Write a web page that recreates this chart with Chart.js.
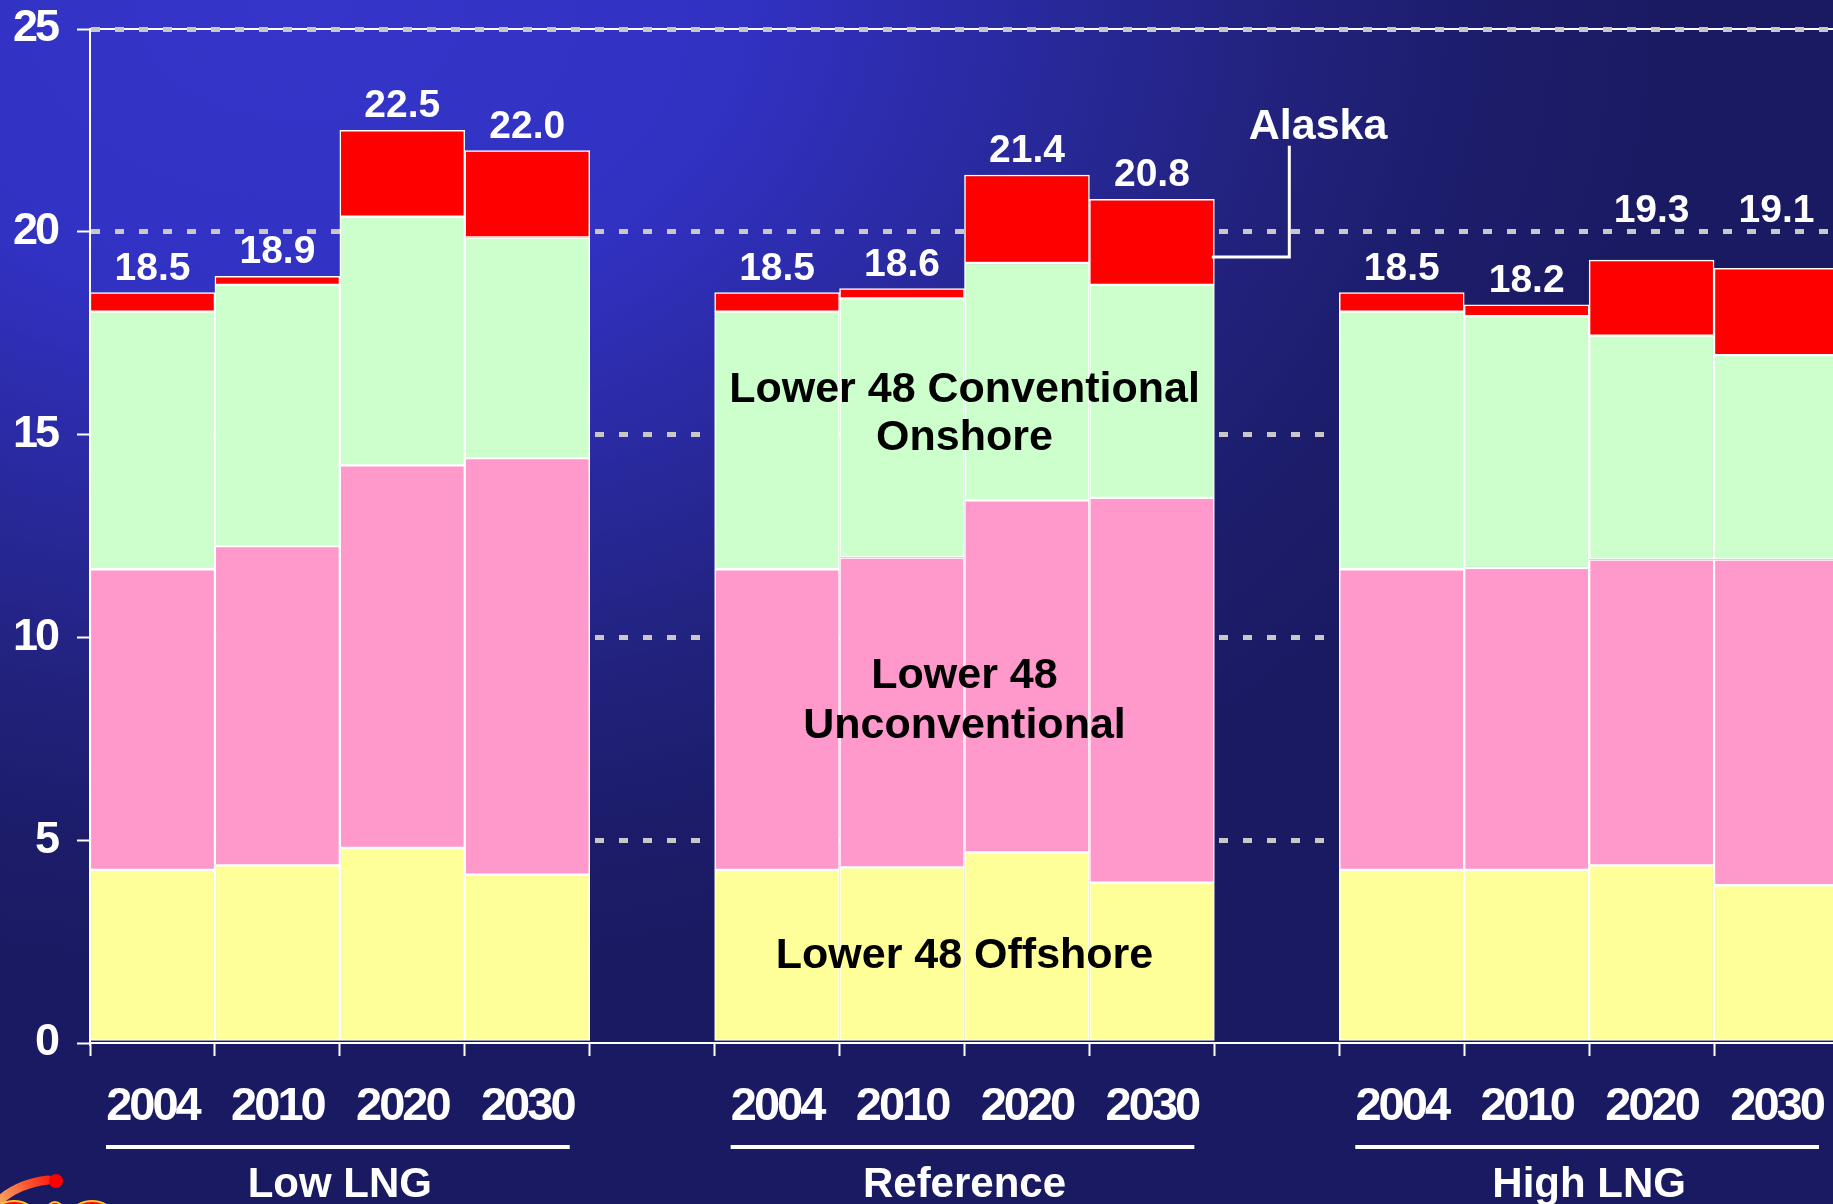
<!DOCTYPE html>
<html><head><meta charset="utf-8">
<script src="https://cdn.jsdelivr.net/npm/chart.js@4.4.1/dist/chart.umd.min.js"></script>
<style>
html,body{margin:0;padding:0;overflow:hidden;width:1833px;height:1204px;}
body{background: radial-gradient(1400px 1000px at 300px 0px, #3535CA 0%, #3131C2 32%, #22227E 70%, #1C1C6A 86%, #1A1A62 100%);}
canvas{display:block}
</style></head><body>
<canvas id="c" width="1846" height="1204"></canvas>
<script>
// ---- data ----
const categories = ['2004','2010','2020','2030','','2004','2010','2020','2030','','2004','2010','2020','2030'];
const offshore       = [4.27, 4.38, 4.81, 4.15, null, 4.27, 4.33, 4.70, 3.95, null, 4.27, 4.27, 4.38, 3.89];
const unconventional = [7.41, 7.87, 9.43, 10.27, null, 7.41, 7.64, 8.68, 9.49, null, 7.41, 7.44, 7.54, 8.03];
const onshore        = [6.35, 6.44, 6.13, 5.44, null, 6.35, 6.39, 5.85, 5.25, null, 6.35, 6.21, 5.52, 5.04];
const alaska         = [0.47, 0.21, 2.13, 2.14, null, 0.47, 0.24, 2.17, 2.11, null, 0.47, 0.28, 1.86, 2.14];
const totals = ['18.5','18.9','22.5','22.0',null,'18.5','18.6','21.4','20.8',null,'18.5','18.2','19.3','19.1'];
const groupNames = ['Low LNG','Reference','High LNG'];
const groupFirst = [0, 5, 10];
const groupLast  = [3, 8, 13];

const FONT = '"Liberation Sans", Arial, Helvetica, sans-serif';

const overlay = {
  id: 'overlay',
  beforeDraw(chart) {
    const {ctx, chartArea: a, scales: {y}} = chart;
    const yy = y.getPixelForValue(25);
    ctx.save();
    ctx.strokeStyle = '#FFFFFF'; ctx.lineWidth = 2;
    ctx.beginPath(); ctx.moveTo(a.left, yy); ctx.lineTo(a.right, yy); ctx.stroke();
    ctx.restore();
    // slightly tighter digits for the axis tick labels, as in the original
    if ('letterSpacing' in ctx) ctx.letterSpacing = '-3px';
  },
  afterDatasetsDraw(chart, args, opts) {
    const {ctx, scales: {x, y}} = chart;
    if ('letterSpacing' in ctx) ctx.letterSpacing = '0px';
    ctx.save();
    ctx.font = `bold 39px ${FONT}`;
    ctx.fillStyle = '#FFFFFF';
    ctx.textAlign = 'center';
    ctx.textBaseline = 'alphabetic';
    totals.forEach((t, i) => {
      if (t == null) return;
      const top = offshore[i] + unconventional[i] + onshore[i] + alaska[i];
      let by = y.getPixelForValue(top) - 13;
      if (opts.labelFloor[i] != null) by = Math.min(by, y.getPixelForValue(opts.labelFloor[i]));
      ctx.fillText(t, x.getPixelForValue(i), by);
    });
    ctx.font = `bold 43px ${FONT}`;
    ctx.fillStyle = '#000000';
    opts.notes.forEach(n => ctx.fillText(n.text, x.getPixelForValue(n.at), y.getPixelForValue(n.base)));
    const al = opts.alaska;
    ctx.fillStyle = '#FFFFFF';
    ctx.fillText('Alaska', x.getPixelForValue(al.textAt), y.getPixelForValue(al.textBase));
    ctx.strokeStyle = '#FFFFFF'; ctx.lineWidth = 3;
    ctx.beginPath();
    ctx.moveTo(x.getPixelForValue(al.fromX), y.getPixelForValue(al.lineY));
    ctx.lineTo(x.getPixelForValue(al.elbowX), y.getPixelForValue(al.lineY));
    ctx.lineTo(x.getPixelForValue(al.elbowX), y.getPixelForValue(al.topY));
    ctx.stroke();
    ctx.restore();
  },
  afterDraw(chart) {
    const {ctx, chartArea: a, scales: {x}} = chart;
    if ('letterSpacing' in ctx) ctx.letterSpacing = '0px';
    ctx.save();
    ctx.fillStyle = '#FFFFFF'; ctx.strokeStyle = '#FFFFFF';
    ctx.font = `bold 42px ${FONT}`;
    ctx.textAlign = 'center'; ctx.textBaseline = 'alphabetic';
    groupNames.forEach((g, k) => {
      const l = x.getPixelForValue(groupFirst[k] - 0.5) + 16;
      const r = x.getPixelForValue(groupLast[k] + 0.5) - 20;
      ctx.lineWidth = 4;
      ctx.beginPath(); ctx.moveTo(l, a.bottom + 104); ctx.lineTo(r, a.bottom + 104); ctx.stroke();
      ctx.fillText(g, x.getPixelForValue((groupFirst[k] + groupLast[k]) / 2), a.bottom + 154);
    });
    // partial logo in the lower-left corner
    const gr = ctx.createLinearGradient(0, 1200, 50, 1180);
    gr.addColorStop(0, '#F7A060'); gr.addColorStop(1, '#FF2010');
    ctx.strokeStyle = gr; ctx.lineWidth = 9; ctx.lineCap = 'round';
    ctx.beginPath(); ctx.moveTo(-4, 1204); ctx.quadraticCurveTo(15, 1184, 48, 1180); ctx.stroke();
    ctx.fillStyle = '#FF0000';
    ctx.beginPath(); ctx.arc(56, 1181, 7, 0, Math.PI * 2); ctx.fill();
    ctx.fillStyle = '#FF0000'; ctx.strokeStyle = '#FFC020'; ctx.lineWidth = 2;
    [[14, 1214, 20, 13], [55, 1210, 8, 8], [92, 1214, 20, 13]].forEach(([cx, cy, rx, ry]) => {
      ctx.beginPath(); ctx.ellipse(cx, cy, rx, ry, 0, 0, Math.PI * 2); ctx.fill(); ctx.stroke();
    });
    ctx.restore();
  }
};

const seriesNames = ['Lower 48 Offshore', 'Lower 48 Unconventional', 'Lower 48 Conventional Onshore', 'Alaska'];
const seriesColors = ['#FFFF99', '#FF99CC', '#CCFFCC', '#FF0000'];
const seriesData = [offshore, unconventional, onshore, alaska];

new Chart(document.getElementById('c'), {
  type: 'bar',
  data: {
    labels: categories,
    datasets: seriesData.map((d, k) => ({
      label: seriesNames[k], data: d, backgroundColor: seriesColors[k],
      borderColor: '#FFFFFF', borderWidth: 1.5, borderSkipped: false,
      barPercentage: 1, categoryPercentage: 1
    }))
  },
  options: {
    responsive: false, animation: false,
    layout: {padding: {left: 7, right: 7, top: 29, bottom: 0}},
    plugins: {
      legend: {display: false}, tooltip: {enabled: false},
      overlay: {
        labelFloor: {12: 20.25, 13: 20.25},
        notes: [
          {text: 'Lower 48 Conventional', at: 6.5, base: 15.8},
          {text: 'Onshore', at: 6.5, base: 14.62},
          {text: 'Lower 48', at: 6.5, base: 8.75},
          {text: 'Unconventional', at: 6.5, base: 7.52},
          {text: 'Lower 48 Offshore', at: 6.5, base: 1.85}
        ],
        alaska: {textAt: 9.33, textBase: 22.29, fromX: 8.48, elbowX: 9.1, lineY: 19.38, topY: 22.12}
      }
    },
    scales: {
      x: {
        stacked: true, offset: true,
        afterFit(s) { s.height = 161; s.paddingLeft = 0; s.paddingRight = 0; },
        grid: {offset: true, drawOnChartArea: false, drawTicks: true, tickLength: 13, tickColor: '#FFFFFF', tickWidth: 2},
        border: {color: '#FFFFFF', width: 2},
        ticks: {color: '#FFFFFF', font: {family: FONT, size: 47, weight: 'bold'}, padding: 23, autoSkip: false, maxRotation: 0}
      },
      y: {
        stacked: true, min: 0, max: 25,
        afterFit(s) { s.width = 83; s.paddingTop = 0; s.paddingBottom = 0; },
        ticks: {stepSize: 5, color: '#FFFFFF', font: {family: FONT, size: 45, weight: 'bold'}, padding: 20},
        grid: {
          color: c => (c.tick && c.tick.value === 0) ? 'rgba(0,0,0,0)' : '#C8C8C8',
          lineWidth: 5, tickColor: '#FFFFFF', tickWidth: 2, tickLength: 13, tickBorderDash: []
        },
        border: {color: '#FFFFFF', width: 2, dash: [9, 15]}
      }
    }
  },
  plugins: [overlay]
});
</script>
</body></html>
